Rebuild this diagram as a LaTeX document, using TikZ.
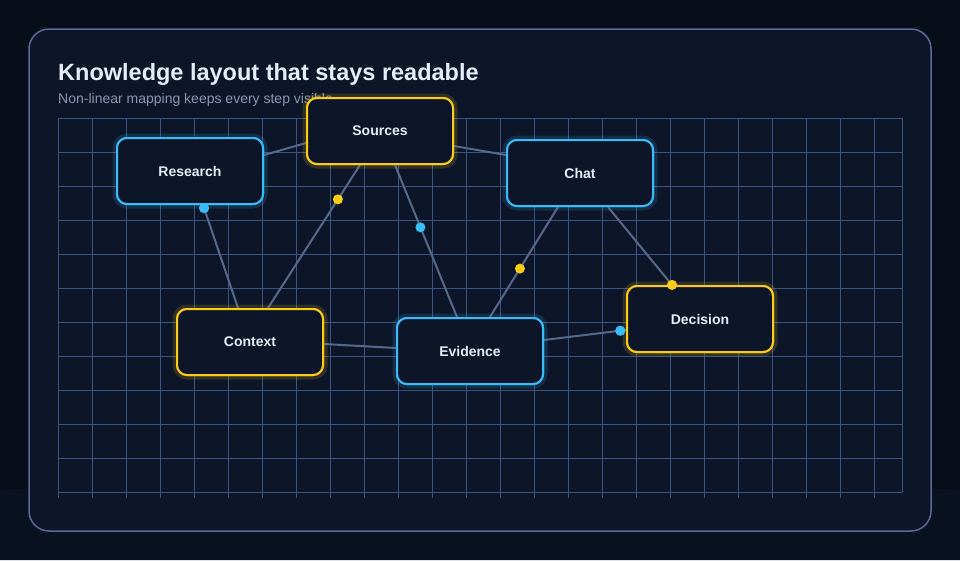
\documentclass[tikz,border=0pt]{standalone}
\usepackage{fontspec}
\setmainfont{Liberation Sans}
\usetikzlibrary{positioning}
\definecolor{pagebg}{HTML}{060C18}
\definecolor{panelbg}{HTML}{0D1628}
\definecolor{panelrim}{HTML}{5A6A9A}
\definecolor{gridline}{HTML}{3A5380}
\definecolor{edgeline}{HTML}{56698A}
\definecolor{cyanrim}{HTML}{38BDF8}
\definecolor{goldrim}{HTML}{FACC15}
\definecolor{labeltext}{HTML}{E6ECF8}
\definecolor{subtext}{HTML}{8A96B0}
\tikzset{
	card/.style={draw=#1, line width=2pt, fill=panelbg, rounded corners=10pt,
		minimum width=146pt, minimum height=66pt, text=labeltext,
		font=\fontsize{14}{16}\selectfont\bfseries,
		preaction={draw=#1, draw opacity=0.08, line width=9pt}},
	link/.style={draw=edgeline, line width=2pt},
	pin/.style={circle, fill=#1, inner sep=0pt, minimum size=10pt}
}
\begin{document}
\begin{tikzpicture}[x=1pt, y=-1pt]
	\fill[pagebg] (0, 0) rectangle (960, 560);
	\fill[panelbg!55!pagebg] (0, 490) .. controls (300, 470) and (660, 470) .. (960, 490) -- (960, 560) -- (0, 560) -- cycle;
	\draw[panelrim, fill=panelbg, line width=1.5pt, rounded corners=20pt] (29, 29) rectangle (931, 531);
	\useasboundingbox (0, 0) rectangle (960, 560);

	\node[anchor=base west, text=labeltext, font=\fontsize{23.5}{26}\selectfont\bfseries, inner sep=0pt] (title) at (58, 80) {Knowledge layout that stays readable};
	\node[anchor=base west, text=subtext, font=\fontsize{14}{16}\selectfont, inner sep=0pt] (subtitle) at (58, 103) {Non-linear mapping keeps every step visible};

	% grid
	\foreach \gx in {58, 92, ..., 892} {
		\draw[gridline, line width=1pt] (\gx, 118) -- (\gx, 498);
	}
	\draw[gridline, line width=1pt] (902, 118) -- (902, 492);
	\foreach \gy in {118, 152, ..., 492} {
		\draw[gridline, line width=1pt] (58, \gy) -- (902, \gy);
	}

	\node[card=cyanrim] (research) at (190, 171) {Research};
	\node[card=goldrim] (sources) at (380, 131) {Sources};
	\node[card=cyanrim] (chat) at (580, 173) {Chat};
	\node[card=goldrim] (context) at (250, 342) {Context};
	\node[card=cyanrim] (evidence) at (470, 351) {Evidence};
	\node[card=goldrim] (decision) at (700, 319) {Decision};

	\draw[link] (research.east |- 0, 155) -- (sources.west |- 0, 143);
	\draw[link] (sources.east |- 0, 146) -- (chat.west |- 0, 155);
	\draw[link] ([xshift=13pt]research.south) -- ([xshift=-12pt]context.north)
		node[pos=0.03, pin=cyanrim] (pinA) {};
	\draw[link] ([xshift=-20pt]sources.south) -- ([xshift=18pt]context.north)
		node[pos=0.24, pin=goldrim] (pinB) {};
	\draw[link] ([xshift=15pt]sources.south) -- ([xshift=-13pt]evidence.north)
		node[pos=0.41, pin=cyanrim] (pinC) {};
	\draw[link] ([xshift=-22pt]chat.south) -- ([xshift=20pt]evidence.north)
		node[pos=0.56, pin=goldrim] (pinD) {};
	\draw[link] ([xshift=28pt]chat.south) -- ([xshift=-28pt]decision.north)
		node[pos=1, pin=goldrim] (pinE) {};
	\draw[link] (context.east |- 0, 344) -- (evidence.west |- 0, 348);
	\draw[link] (evidence.east |- 0, 340) -- (decision.west |- 0, 330)
		node[pos=0.93, pin=cyanrim] (pinF) {};

	% redraw cards over the links
	\node[card=cyanrim] at (research) {Research};
	\node[card=goldrim] at (sources) {Sources};
	\node[card=cyanrim] at (chat) {Chat};
	\node[card=goldrim] at (context) {Context};
	\node[card=cyanrim] at (evidence) {Evidence};
	\node[card=goldrim] at (decision) {Decision};
	\node[pin=cyanrim] at (pinA) {};
	\node[pin=goldrim] at (pinE) {};
	\node[pin=cyanrim] at (pinF) {};
\end{tikzpicture}
\end{document}
